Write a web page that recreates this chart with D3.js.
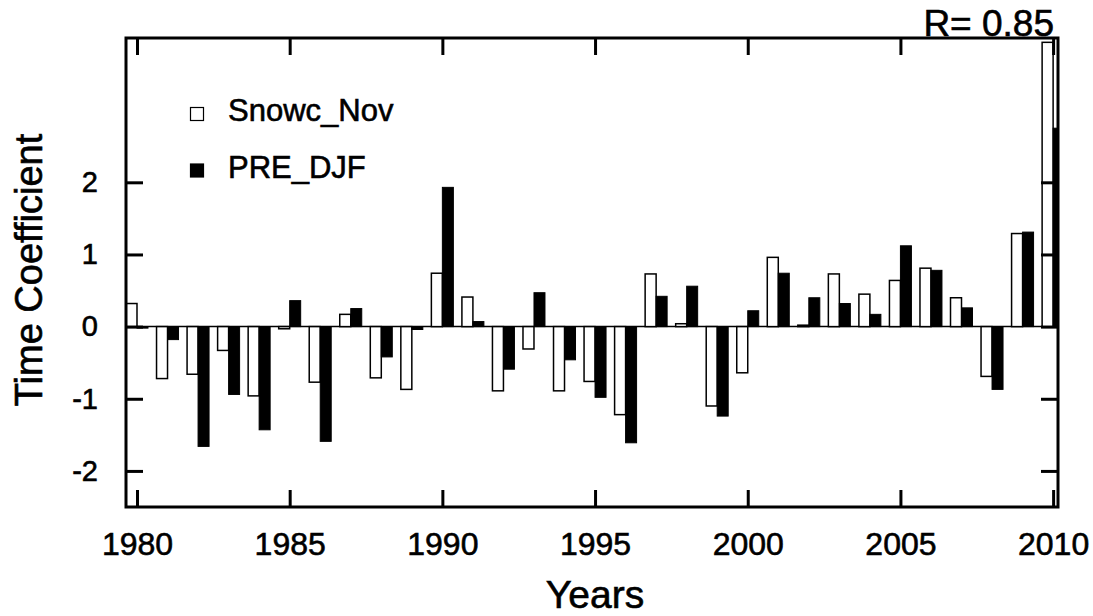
<!DOCTYPE html>
<html>
<head>
<meta charset="utf-8">
<script src="https://cdn.jsdelivr.net/npm/d3@7"></script>
<style>
  body { margin: 0; background: #fff; }
  svg { display: block; font-family: "Liberation Sans", Arial, Helvetica, sans-serif; }
  svg text { stroke: #000; stroke-width: 0.6px; }
</style>
</head>
<body>
<div id="chart"></div>
<script>
// 数据
const years = d3.range(1980, 2011);
const snowcNov = [0.32, -0.72, -0.66, -0.33, -0.96, -0.03, -0.77, 0.17, -0.71, -0.87,
                  0.74, 0.41, -0.89, -0.31, -0.89, -0.76, -1.22, 0.73, 0.04, -1.10,
                  -0.64, 0.96, 0.02, 0.73, 0.45, 0.64, 0.81, 0.40, -0.69, 1.29, 3.94];
const preDJF = [-0.02, -0.18, -1.66, -0.94, -1.43, 0.36, -1.59, 0.25, -0.42, -0.04,
                1.93, 0.07, -0.59, 0.47, -0.46, -0.98, -1.61, 0.42, 0.56, -1.24,
                0.22, 0.74, 0.40, 0.32, 0.17, 1.12, 0.78, 0.26, -0.87, 1.31, 2.75];
const xTicks = [1980, 1985, 1990, 1995, 2000, 2005, 2010];
const yTicks = [-2, -1, 0, 1, 2];
const legendItems = [{ label: 'Snowc_Nov', fill: '#fff' }, { label: 'PRE_DJF', fill: '#000' }];

const width = 1093, height = 616;
const pLeft = 126, pRight = 1058, pTop = 38, pBottom = 507;
const barW = 0.36; // 年

const svg = d3.select('#chart').append('svg')
    .attr('width', width)
    .attr('height', height);

const x = d3.scaleLinear().domain([1979.64, 2010.16]).range([pLeft, pRight]);
const y = d3.scaleLinear().domain([-2.5, 4.0]).range([pBottom, pTop]);

svg.append('clipPath').attr('id', 'plotClip')
  .append('rect')
    .attr('x', pLeft).attr('y', pTop)
    .attr('width', pRight - pLeft).attr('height', pBottom - pTop);

const barsG = svg.append('g').attr('clip-path', 'url(#plotClip)');

// 零线
barsG.append('line')
    .attr('x1', pLeft).attr('x2', pRight)
    .attr('y1', y(0)).attr('y2', y(0))
    .attr('stroke', '#000').attr('stroke-width', 1.5);

// 白色柱 Snowc_Nov
barsG.selectAll('rect.snow')
  .data(years.map((yr, i) => ({ yr, v: snowcNov[i] })))
  .join('rect')
    .attr('class', 'snow')
    .attr('x', d => x(d.yr - barW))
    .attr('width', d => x(d.yr) - x(d.yr - barW))
    .attr('y', d => y(Math.max(0, d.v)))
    .attr('height', d => Math.abs(y(d.v) - y(0)))
    .attr('fill', '#fff')
    .attr('stroke', '#000')
    .attr('stroke-width', 1.5);

// 黑色柱 PRE_DJF
barsG.selectAll('rect.pre')
  .data(years.map((yr, i) => ({ yr, v: preDJF[i] })))
  .join('rect')
    .attr('class', 'pre')
    .attr('x', d => x(d.yr))
    .attr('width', d => x(d.yr + barW) - x(d.yr))
    .attr('y', d => y(Math.max(0, d.v)))
    .attr('height', d => Math.max(1.5, Math.abs(y(d.v) - y(0))))
    .attr('fill', '#000')
    .attr('stroke', '#000')
    .attr('stroke-width', 1);

// 坐标轴（刻度朝内）
function styleAxis(g) {
  g.select('.domain').remove();
  g.selectAll('.tick line').attr('stroke', '#000').attr('stroke-width', 3);
  g.selectAll('.tick text').attr('fill', '#000');
}

svg.append('g')
    .attr('transform', `translate(0,${pBottom})`)
    .call(d3.axisBottom(x).tickValues(xTicks).tickFormat(d3.format('d'))
      .tickSizeInner(-17).tickSizeOuter(0).tickPadding(25))
    .call(styleAxis)
    .call(g => g.selectAll('.tick text').attr('font-size', 32));

svg.append('g')
    .attr('transform', `translate(0,${pTop})`)
    .call(d3.axisTop(x).tickValues(xTicks).tickFormat('')
      .tickSizeInner(-17).tickSizeOuter(0))
    .call(styleAxis);

svg.append('g')
    .attr('transform', `translate(${pLeft},0)`)
    .call(d3.axisLeft(y).tickValues(yTicks).tickFormat(d => d < 0 ? '-' + Math.abs(d) : d)
      .tickSizeInner(-17).tickSizeOuter(0).tickPadding(28))
    .call(styleAxis)
    .call(g => g.selectAll('.tick text').attr('font-size', 29));

svg.append('g')
    .attr('transform', `translate(${pRight},0)`)
    .call(d3.axisRight(y).tickValues(yTicks).tickFormat('')
      .tickSizeInner(-17).tickSizeOuter(0))
    .call(styleAxis);

// 外框
svg.append('rect')
    .attr('x', pLeft).attr('y', pTop)
    .attr('width', pRight - pLeft).attr('height', pBottom - pTop)
    .attr('fill', 'none')
    .attr('stroke', '#000')
    .attr('stroke-width', 3);

// 图例
const legend = svg.append('g');
legendItems.forEach((item, i) => {
  const ly = 120 + i * 56.5;
  legend.append('rect')
      .attr('x', 190.5).attr('y', ly - 12.5)
      .attr('width', 13).attr('height', 13)
      .attr('fill', item.fill)
      .attr('stroke', '#000')
      .attr('stroke-width', 1.2);
  legend.append('text')
      .attr('x', 228).attr('y', ly + 1)
      .attr('font-size', 31)
      .text(item.label);
});

// 相关系数
svg.append('text')
    .attr('x', 1054).attr('y', 36)
    .attr('text-anchor', 'end')
    .attr('font-size', 37)
    .text('R= 0.85');

// 轴标题
svg.append('text')
    .attr('x', (pLeft + pRight) / 2 + 3).attr('y', 608)
    .attr('text-anchor', 'middle')
    .attr('font-size', 39)
    .text('Years');

svg.append('text')
    .attr('transform', 'rotate(-90)')
    .attr('x', -270).attr('y', 42)
    .attr('text-anchor', 'middle')
    .attr('font-size', 38)
    .text('Time Coefficient');
</script>
</body>
</html>
